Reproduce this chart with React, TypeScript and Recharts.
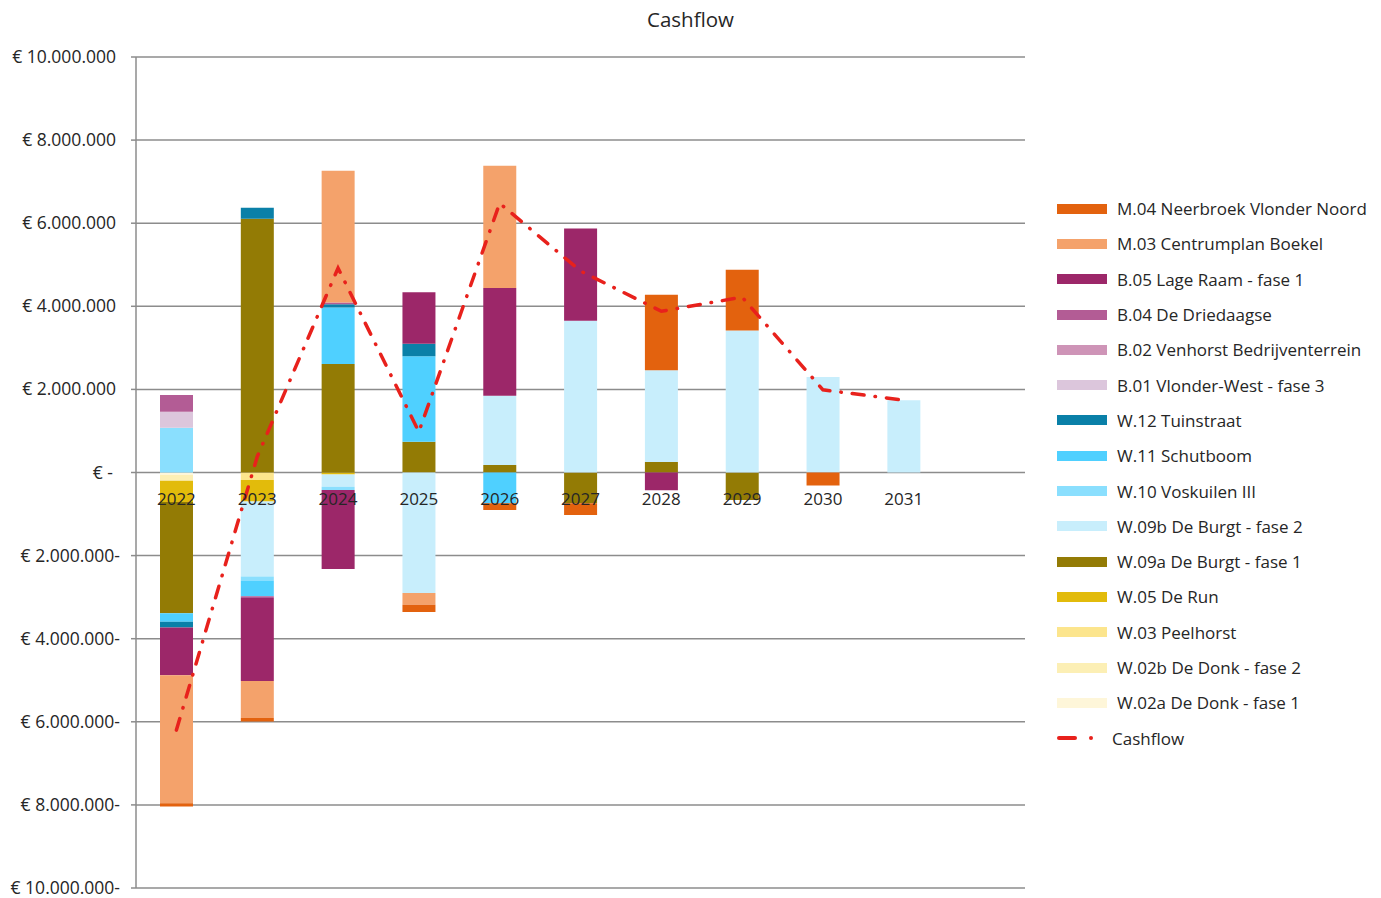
import {
  ComposedChart,
  Bar,
  Line,
  XAxis,
  YAxis,
  CartesianGrid,
} from "recharts";

// values in millions of euros
const years = ["2022", "2023", "2024", "2025", "2026", "2027", "2028", "2029", "2030", "2031", ""];

const w02a = [-0.06, 0, 0, 0, 0, 0, 0, 0, 0, 0, null];
const w02b = [-0.14, 0, 0, 0, 0, 0, 0, 0, 0, 0, null];
const w03 = [0, -0.18, 0, 0, 0, 0, 0, 0, 0, 0, null];
const w05 = [-0.51, -0.52, -0.05, 0, 0, 0, 0, 0, 0, 0, null];
const w09a = [-2.68, 6.11, 2.61, 0.74, 0.18, -0.74, 0.25, -0.66, 0, 0, null];
const w09b = [0, -1.8, -0.29, -2.9, 1.67, 3.65, 2.21, 3.42, 2.3, 1.74, null];
const w10 = [1.08, -0.1, -0.08, 0, 0, 0, 0, 0, 0, 0, null];
const w11 = [-0.2, -0.38, 1.36, 2.06, -0.74, 0, 0, 0, 0, 0, null];
const w12 = [-0.14, 0.26, 0.08, 0.3, 0, 0, 0, 0, 0, 0, null];
const b01 = [0.385, 0, 0, 0, 0, 0, 0, 0, 0, 0, null];
const b02 = [0, 0, 0, 0, 0, 0, 0, 0, 0, 0, null];
const b04 = [0.4, -0.04, 0.04, 0, 0, 0, 0, 0, 0, 0, null];
const b05 = [-1.15, -2.0, -1.9, 1.24, 2.59, 2.22, -0.43, 0, 0, 0, null];
const m03 = [-3.08, -0.89, 3.17, -0.28, 2.94, 0, 0, 0, 0, 0, null];
const m04 = [-0.08, -0.08, 0, -0.18, -0.16, -0.28, 1.82, 1.46, -0.31, 0, null];
const cashflow = [-6.2, 0.38, 4.92, 0.98, 6.48, 4.85, 3.88, 4.22, 1.99, 1.74, null];

const yTicks = [-10, -8, -6, -4, -2, 0, 2, 4, 6, 8, 10];
const yTickLabels = [
  "€ 10.000.000-",
  "€ 8.000.000-",
  "€ 6.000.000-",
  "€ 4.000.000-",
  "€ 2.000.000-",
  "€ -",
  "€ 2.000.000",
  "€ 4.000.000",
  "€ 6.000.000",
  "€ 8.000.000",
  "€ 10.000.000",
];

const series = [
  { key: "w02a", name: "W.02a De Donk - fase 1", color: "#FEF6D9", values: w02a },
  { key: "w02b", name: "W.02b De Donk - fase 2", color: "#FCEFB5", values: w02b },
  { key: "w03", name: "W.03 Peelhorst", color: "#FCE58D", values: w03 },
  { key: "w05", name: "W.05 De Run", color: "#E2BB0B", values: w05 },
  { key: "w09a", name: "W.09a De Burgt - fase 1", color: "#937B05", values: w09a },
  { key: "w09b", name: "W.09b De Burgt - fase 2", color: "#C8EEFC", values: w09b },
  { key: "w10", name: "W.10 Voskuilen III", color: "#8ADFFE", values: w10 },
  { key: "w11", name: "W.11 Schutboom", color: "#4FD0FF", values: w11 },
  { key: "w12", name: "W.12 Tuinstraat", color: "#0A80A8", values: w12 },
  { key: "b01", name: "B.01 Vlonder-West - fase 3", color: "#DCC6DC", values: b01 },
  { key: "b02", name: "B.02 Venhorst Bedrijventerrein", color: "#CE94B7", values: b02 },
  { key: "b04", name: "B.04 De Driedaagse", color: "#B35C95", values: b04 },
  { key: "b05", name: "B.05 Lage Raam - fase 1", color: "#9C2769", values: b05 },
  { key: "m03", name: "M.03 Centrumplan Boekel", color: "#F4A26B", values: m03 },
  { key: "m04", name: "M.04 Neerbroek Vlonder Noord", color: "#E3620E", values: m04 },
];

const data = years.map((year, i) => {
  const row: Record<string, number | string | null> = { year, cashflow: cashflow[i] };
  series.forEach((s) => {
    row[s.key] = s.values[i];
  });
  return row;
});

const FONT = "'Open Sans', sans-serif";
const LINE_RED = "#E8211C";

const YTick = (props: any) => {
  const { y, payload } = props;
  const idx = yTicks.indexOf(payload.value);
  const label = yTickLabels[idx];
  const neg = payload.value < 0;
  return (
    <g>
      <line x1={131} x2={136} y1={y} y2={y} stroke="#8c8c8c" strokeWidth={1.5} />
      <text
        x={neg ? 120 : payload.value === 0 ? 113 : 116}
        y={y}
        dy={6}
        textAnchor="end"
        fontSize={17.5}
        fontFamily={FONT}
        fill="#262626"
      >
        {label}
      </text>
    </g>
  );
};

const XTick = (props: any) => {
  const { x, payload } = props;
  return (
    <text x={x} y={505} textAnchor="middle" fontSize={17} fontFamily={FONT} fill="#262626">
      {payload.value}
    </text>
  );
};

const ChartLegend = () => {
  const items = [...series].reverse();
  return (
    <div
      style={{
        position: "absolute",
        left: 1057,
        top: 191,
        fontFamily: FONT,
        fontSize: 17,
        color: "#262626",
      }}
    >
      {items.map((s) => (
        <div key={s.key} style={{ display: "flex", alignItems: "center", height: 35.3 }}>
          <div style={{ width: 50, height: 10, background: s.color, marginRight: 10 }} />
          <span style={{ whiteSpace: "nowrap" }}>{s.name}</span>
        </div>
      ))}
      <div style={{ display: "flex", alignItems: "center", height: 35.3 }}>
        <svg width={50} height={10} style={{ marginRight: 5 }}>
          <line x1={2} x2={18} y1={5} y2={5} stroke={LINE_RED} strokeWidth={4} strokeLinecap="round" />
          <circle cx={34} cy={5} r={2} fill={LINE_RED} />
        </svg>
        <span>Cashflow</span>
      </div>
    </div>
  );
};

export default function App() {
  return (
    <div style={{ position: "absolute", left: 0, top: 0, width: 1381, height: 898, background: "#fff" }}>
      <div
        style={{
          position: "absolute",
          top: 5,
          left: 0,
          width: 1381,
          textAlign: "center",
          fontFamily: FONT,
          fontSize: 20.5,
          color: "#262626",
        }}
      >
        Cashflow
      </div>
      <ComposedChart
        width={1381}
        height={898}
        data={data}
        stackOffset="sign"
        margin={{ top: 57, right: 356, bottom: 9, left: 0 }}
      >
        <CartesianGrid vertical={false} stroke="#8c8c8c" strokeWidth={1.5} />
        <XAxis dataKey="year" axisLine={false} tickLine={false} height={1} tick={<XTick />} interval={0} />
        <YAxis
          type="number"
          domain={[-10, 10]}
          ticks={yTicks}
          width={136}
          axisLine={{ stroke: "#8c8c8c", strokeWidth: 1.5 }}
          tickLine={false}
          tick={<YTick />}
          interval={0}
        />
        {series.map((s) => (
          <Bar
            key={s.key}
            dataKey={s.key}
            name={s.name}
            stackId="a"
            fill={s.color}
            barSize={33}
            isAnimationActive={false}
          />
        ))}
        <Line
          dataKey="cashflow"
          name="Cashflow"
          type="linear"
          stroke={LINE_RED}
          strokeWidth={3.5}
          strokeDasharray="12 11 0.5 11"
          strokeLinecap="round"
          dot={false}
          activeDot={false}
          isAnimationActive={false}
        />
      </ComposedChart>
      <ChartLegend />
    </div>
  );
}
